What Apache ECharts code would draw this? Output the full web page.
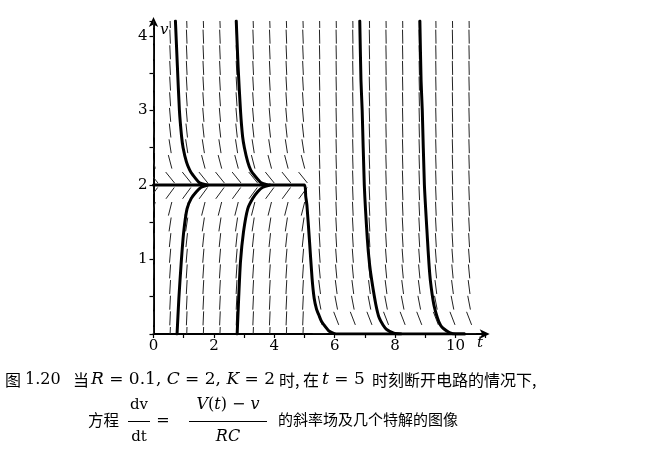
<!DOCTYPE html>
<html>
<head>
<meta charset="utf-8">
<script src="https://cdn.jsdelivr.net/npm/echarts@6/dist/echarts.min.js"></script>
<style>
html,body{margin:0;padding:0;background:#fff;}
#main{width:645px;height:449px;}
</style>
</head>
<body>
<div id="main"></div>
<script>
// ---- data ----
const xTickLabels = ['0', '2', '4', '6', '8', '10'];
const yTickLabels = ['1', '2', '3', '4'];

// slope-field grid (t columns, v rows)
const fieldT = [0, 0.55, 1.1, 1.65, 2.2, 2.75, 3.3, 3.85, 4.4, 4.95, 5.5, 6.05, 6.6, 7.15, 7.7, 8.25, 8.8, 9.35, 9.9, 10.45];
const fieldV = [0, 0.21, 0.42, 0.63, 0.84, 1.05, 1.26, 1.47, 1.68, 1.89, 2.1, 2.31, 2.52, 2.73, 2.94, 3.15, 3.36, 3.57, 3.78, 3.99, 4.2];
// slope per v row while the circuit is closed (t < 5) and after it is opened (t > 5)
const slopeOn = [10, 8.95, 7.9, 6.85, 5.8, 4.75, 3.7, 2.65, 1.6, 0.55, -0.5, -1.55, -2.6, -3.65, -4.7, -5.75, -6.8, -7.85, -8.9, -9.95, -11];
const slopeOff = [0, -1.05, -2.1, -3.15, -4.2, -5.25, -6.3, -7.35, -8.4, -9.45, -10.5, -11.55, -12.6, -13.65, -14.7, -15.75, -16.8, -17.85, -18.9, -19.95, -21];
const switchT = 5;

// particular solutions [t, v]
const curveA = [[0.726, 4.2], [0.79, 3.6], [0.858, 3.0], [0.93, 2.65], [0.98, 2.5], [1.09, 2.31], [1.2, 2.2], [1.31, 2.13], [1.52, 2.03], [1.75, 2.0]];
const curveB = [[0.78, 0], [0.84, 0.48], [0.92, 0.97], [1.0, 1.37], [1.11, 1.68], [1.25, 1.82], [1.42, 1.91], [1.58, 1.97], [1.8, 2.0]];
const curveC = [[2.74, 4.2], [2.8, 3.6], [2.88, 3.0], [2.95, 2.65], [3.01, 2.5], [3.12, 2.31], [3.22, 2.2], [3.34, 2.13], [3.56, 2.03], [3.78, 2.0]];
const curveD = [[2.77, 0], [2.82, 0.48], [2.88, 0.97], [2.98, 1.37], [3.12, 1.68], [3.29, 1.82], [3.45, 1.91], [3.62, 1.97], [3.85, 2.0]];
const curveE = [[0, 2], [5.0, 2], [5.04, 1.85], [5.08, 1.73], [5.16, 1.28], [5.25, 0.75], [5.32, 0.48], [5.4, 0.33], [5.46, 0.27], [5.55, 0.18], [5.63, 0.13], [5.81, 0.04], [6.05, 0], [10.3, 0]];
const curveF = [[6.83, 4.2], [6.87, 3.4], [6.91, 3.0], [6.98, 2.0], [7.08, 1.28], [7.15, 0.95], [7.23, 0.71], [7.36, 0.40], [7.47, 0.22], [7.6, 0.12], [7.72, 0.06], [7.96, 0.01], [8.2, 0]];
const curveG = [[8.82, 4.2], [8.86, 3.4], [8.9, 3.0], [8.97, 2.0], [9.07, 1.28], [9.12, 0.95], [9.17, 0.71], [9.28, 0.40], [9.4, 0.22], [9.5, 0.12], [9.61, 0.07], [9.8, 0.02], [10.0, 0], [10.3, 0]];

// ---- build ----
const fieldData = [];
fieldT.forEach(function (t) {
  fieldV.forEach(function (v, k) {
    fieldData.push([t, v, t < switchT ? slopeOn[k] : slopeOff[k]]);
  });
});

const SERIF = '"DejaVu Serif", "Liberation Serif", serif';
const CJK = '"Noto Sans CJK SC", sans-serif';

function solution(d) {
  return {
    type: 'line', data: d, showSymbol: false, smooth: 0.2, z: 5,
    lineStyle: { color: '#000', width: 3, cap: 'round', join: 'round' },
    animation: false, clip: true
  };
}
const mathRich = {
  r: { font: '17px ' + SERIF, fill: '#000' },
  i: { font: 'italic 17px ' + SERIF, fill: '#000' }
};

const chart = echarts.init(document.getElementById('main'), null, { renderer: 'canvas' });
chart.setOption({
  backgroundColor: '#fff',
  animation: false,
  grid: { left: 153.5, right: 159.3, top: 21, bottom: 115, containLabel: false },
  xAxis: {
    type: 'value', min: 0, max: 11, interval: 1,
    axisLine: { show: true, onZero: false, symbol: ['none', 'arrow'], symbolSize: [7, 10], symbolOffset: [0, 4],
      lineStyle: { color: '#000', width: 2 } },
    axisTick: { show: true, length: 4, lineStyle: { color: '#000', width: 1.2 } },
    splitLine: { show: false },
    axisLabel: {
      color: '#000', fontFamily: SERIF, fontSize: 15, margin: 5,
      formatter: function (val) {
        const s = String(val);
        return xTickLabels.indexOf(s) >= 0 ? s : '';
      }
    }
  },
  yAxis: {
    type: 'value', min: 0, max: 4.2, interval: 0.5,
    axisLine: { show: true, onZero: false, symbol: ['none', 'arrow'], symbolSize: [7, 10], symbolOffset: [0, 4],
      lineStyle: { color: '#000', width: 2 } },
    axisTick: { show: true, length: 4, lineStyle: { color: '#000', width: 1.2 } },
    splitLine: { show: false },
    axisLabel: {
      color: '#000', fontFamily: SERIF, fontSize: 15, margin: 6,
      formatter: function (val) {
        const s = String(val);
        return yTickLabels.indexOf(s) >= 0 ? s : '';
      }
    }
  },
  series: [
    {
      type: 'custom', data: fieldData, clip: true, z: 2, silent: true,
      renderItem: function (params, api) {
        const t = api.value(0), v = api.value(1), s = api.value(2);
        const p = api.coord([t, v]);
        const q = api.coord([t + 0.05, v + 0.05 * s]);
        const dx = q[0] - p[0], dy = q[1] - p[1];
        const n = Math.sqrt(dx * dx + dy * dy) || 1;
        const h = 7;
        const ux = dx / n * h, uy = dy / n * h;
        return {
          type: 'line',
          shape: { x1: p[0] - ux, y1: p[1] - uy, x2: p[0] + ux, y2: p[1] + uy },
          style: { stroke: '#222', lineWidth: 1 }
        };
      }
    },
    solution(curveA), solution(curveB), solution(curveC), solution(curveD),
    solution(curveE), solution(curveF), solution(curveG)
  ],
  graphic: [
    { type: 'text', left: 160, top: 23, style: { text: 'v', font: 'italic 15px ' + SERIF, fill: '#000' } },
    { type: 'text', left: 477, top: 336, style: { text: 't', font: 'italic 15px ' + SERIF, fill: '#000' } },
    // caption line 1 (pieces)
    { type: 'text', left: 5, top: 372, style: { text: '图', font: '16px ' + CJK, fill: '#000' } },
    { type: 'text', left: 25, top: 372, style: { text: '1.20', font: '16px ' + SERIF, fill: '#000' } },
    { type: 'text', left: 73, top: 372, style: { text: '当', font: '16px ' + CJK, fill: '#000' } },
    {
      type: 'text', left: 91, top: 371,
      style: { text: '{i|R}{r| = 0.1, }{i|C}{r| = 2, }{i|K}{r| = 2}', rich: mathRich }
    },
    { type: 'text', left: 279, top: 372, style: { text: '时,', font: '16px ' + CJK, fill: '#000' } },
    { type: 'text', left: 303, top: 372, style: { text: '在', font: '16px ' + CJK, fill: '#000' } },
    {
      type: 'text', left: 322, top: 371,
      style: { text: '{i|t}{r| = 5}', rich: mathRich }
    },
    { type: 'text', left: 372, top: 372, style: { text: '时刻断开电路的情况下,', font: '16px ' + CJK, fill: '#000' } },
    // caption line 2
    { type: 'text', left: 88, top: 412, style: { text: '方程', font: '15.5px ' + CJK, fill: '#000' } },
    { type: 'text', x: 139, y: 405, style: { text: 'dv', font: '15px ' + SERIF, fill: '#000', align: 'center', verticalAlign: 'middle' } },
    { type: 'line', shape: { x1: 128, y1: 421.5, x2: 150, y2: 421.5 }, style: { stroke: '#000', lineWidth: 1 } },
    { type: 'text', x: 139, y: 437, style: { text: 'dt', font: '15px ' + SERIF, fill: '#000', align: 'center', verticalAlign: 'middle' } },
    { type: 'text', x: 163, y: 421, style: { text: '=', font: '16px ' + SERIF, fill: '#000', align: 'center', verticalAlign: 'middle' } },
    {
      type: 'text', x: 228, y: 405,
      style: {
        text: '{i|V}{r|(}{i|t}{r|) − }{i|v}', align: 'center', verticalAlign: 'middle',
        rich: {
          r: { font: '16px ' + SERIF, fill: '#000' },
          i: { font: 'italic 16px ' + SERIF, fill: '#000' }
        }
      }
    },
    { type: 'line', shape: { x1: 189, y1: 421.5, x2: 267, y2: 421.5 }, style: { stroke: '#000', lineWidth: 1 } },
    { type: 'text', x: 228, y: 437, style: { text: 'RC', font: 'italic 16px ' + SERIF, fill: '#000', align: 'center', verticalAlign: 'middle' } },
    { type: 'text', left: 278, top: 412, style: { text: '的斜率场及几个特解的图像', font: '15px ' + CJK, fill: '#000' } }
  ]
});
</script>
</body>
</html>
